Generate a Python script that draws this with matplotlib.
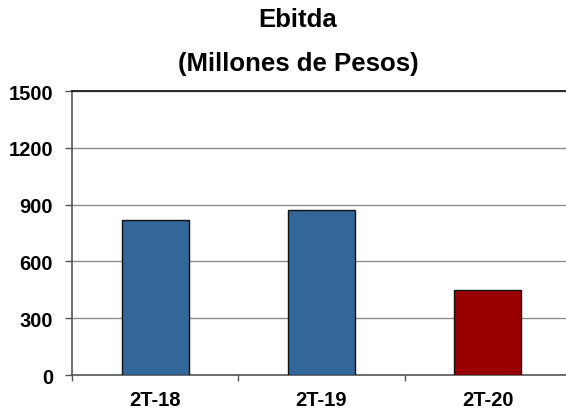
import matplotlib.pyplot as plt
import numpy as np

# values
periods = ["2T-18", "2T-19", "2T-20"]
ebitda = [820, 870, 450]
bar_colors = ["#336699", "#336699", "#990000"]
y_ticks = [0, 300, 600, 900, 1200, 1500]

plt.rcParams["font.family"] = ["Liberation Sans", "DejaVu Sans"]

fig = plt.figure(figsize=(5.66, 4.10), dpi=100)
ax = fig.add_axes([0.128, 0.0829, 0.88, 0.6927])

x = np.arange(len(periods))
ax.bar(x, ebitda, width=0.4, color=bar_colors, edgecolor="#111111", linewidth=1.0, zorder=3)

ax.set_xlim(-0.5, 2.5)
ax.set_ylim(0, 1500)
ax.set_yticks(y_ticks)
ax.set_yticklabels([str(v) for v in y_ticks], fontsize=14.5, fontweight="bold")
ax.set_xticks(x)
ax.set_xticklabels(periods, fontsize=14.5, fontweight="bold")
ax.set_xticks(np.arange(-0.5, 3.0, 1.0), minor=True)

ax.tick_params(axis="y", length=5, width=1, color="#555555", pad=9)
ax.tick_params(axis="x", which="major", length=0, pad=11)
ax.tick_params(axis="x", which="minor", length=4, width=1, color="#555555")

ax.yaxis.grid(True, color="#8c8c8c", linewidth=1.0, zorder=0)
ax.set_axisbelow(True)

ax.spines["right"].set_visible(False)
ax.spines["top"].set_color("#111111")
ax.spines["top"].set_linewidth(1.2)
ax.spines["left"].set_color("#555555")
ax.spines["left"].set_linewidth(1.2)
ax.spines["bottom"].set_color("#555555")
ax.spines["bottom"].set_linewidth(1.2)

fig.text(298 / 566, 1 - 20 / 410, "Ebitda", ha="center", va="center", fontsize=18.5, fontweight="bold")
fig.text(298 / 566, 1 - 64 / 410, "(Millones de Pesos)", ha="center", va="center", fontsize=18.5, fontweight="bold")

fig.savefig("out.png", dpi=100)
